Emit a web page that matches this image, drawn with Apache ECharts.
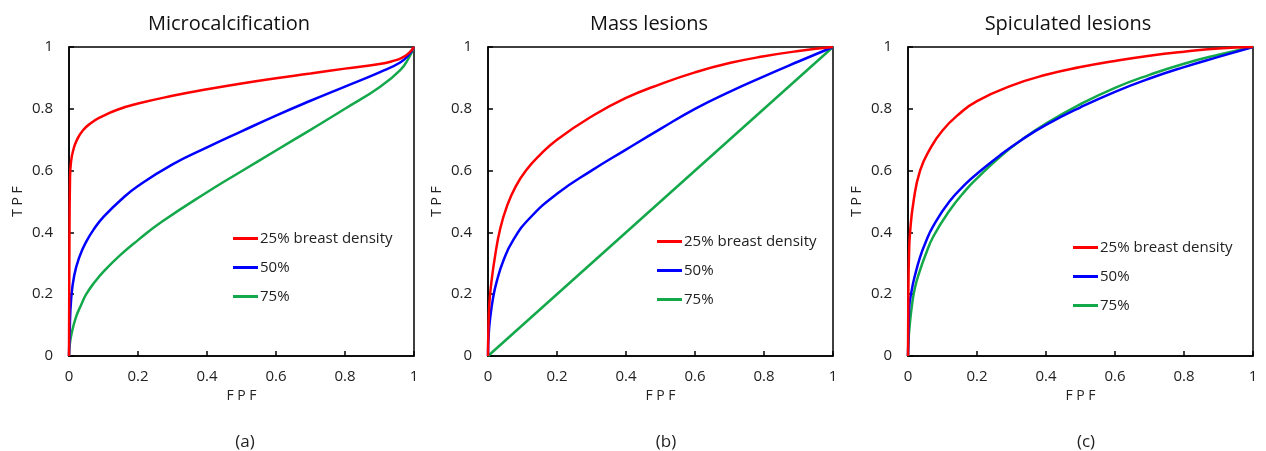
<!DOCTYPE html>
<html>
<head>
<meta charset="utf-8">
<script src="https://cdn.jsdelivr.net/npm/echarts@6/dist/echarts.min.js"></script>
<style>
html,body{margin:0;padding:0;background:#fff;}
#chart{width:1266px;height:451px;}
</style>
</head>
<body>
<div id="chart"></div>
<script>
// ---- data ----
const panelTitles = ['Microcalcification', 'Mass lesions', 'Spiculated lesions'];
const panelCaptions = ['(a)', '(b)', '(c)'];
const seriesNames = ['25% breast density', '50%', '75%'];
const tickLabels = ['0', '0.2', '0.4', '0.6', '0.8', '1'];
const xAxisTitle = 'F P F';
const yAxisTitle = 'T P F';

// (FPF, TPF) pairs
const micro25 = [[0,0],[0.001,0.3],[0.003,0.58],[0.006,0.63],[0.012,0.665],[0.022,0.697],[0.04,0.73],[0.065,0.755],[0.09,0.772],[0.14,0.797],[0.2,0.817],[0.3,0.842],[0.4,0.863],[0.5,0.882],[0.6,0.899],[0.7,0.914],[0.8,0.93],[0.9,0.945],[0.94,0.955],[0.965,0.965],[0.985,0.98],[1,1]];
const micro50 = [[0,0],[0.002,0.08],[0.006,0.18],[0.015,0.26],[0.03,0.32],[0.05,0.37],[0.075,0.415],[0.1,0.45],[0.15,0.505],[0.2,0.55],[0.3,0.62],[0.4,0.675],[0.5,0.727],[0.6,0.778],[0.7,0.826],[0.8,0.872],[0.9,0.918],[0.96,0.95],[0.985,0.975],[1,1]];
const micro75 = [[0,0],[0.002,0.035],[0.008,0.075],[0.02,0.125],[0.035,0.165],[0.05,0.2],[0.075,0.24],[0.1,0.273],[0.15,0.328],[0.2,0.375],[0.27,0.435],[0.4,0.53],[0.5,0.598],[0.6,0.665],[0.7,0.732],[0.8,0.8],[0.9,0.87],[0.96,0.925],[0.985,0.965],[1,1]];

const mass25 = [[0,0],[0.001,0.08],[0.004,0.17],[0.01,0.24],[0.02,0.32],[0.035,0.41],[0.055,0.485],[0.08,0.548],[0.11,0.6],[0.15,0.65],[0.2,0.7],[0.3,0.775],[0.4,0.835],[0.5,0.88],[0.6,0.918],[0.7,0.948],[0.8,0.97],[0.9,0.987],[1,1]];
const mass50 = [[0,0],[0.002,0.07],[0.006,0.12],[0.015,0.19],[0.025,0.24],[0.045,0.31],[0.073,0.375],[0.12,0.445],[0.2,0.525],[0.3,0.6],[0.4,0.668],[0.5,0.735],[0.6,0.8],[0.7,0.855],[0.8,0.905],[0.9,0.953],[1,1]];
const mass75 = [[0,0],[1,1]];

const spic25 = [[0,0],[0.001,0.2],[0.003,0.33],[0.006,0.4],[0.016,0.5],[0.035,0.6],[0.064,0.67],[0.1,0.73],[0.15,0.785],[0.2,0.825],[0.3,0.875],[0.4,0.91],[0.5,0.935],[0.6,0.955],[0.7,0.972],[0.8,0.985],[0.9,0.995],[1,1]];
const spic50 = [[0,0],[0.001,0.05],[0.003,0.15],[0.011,0.214],[0.02,0.26],[0.035,0.32],[0.05,0.365],[0.073,0.42],[0.12,0.5],[0.17,0.56],[0.2,0.59],[0.267,0.65],[0.33,0.7],[0.4,0.748],[0.5,0.805],[0.6,0.855],[0.7,0.898],[0.8,0.935],[0.9,0.968],[1,1]];
const spic75 = [[0,0],[0.002,0.06],[0.005,0.1],[0.011,0.16],[0.02,0.22],[0.035,0.278],[0.05,0.325],[0.073,0.386],[0.12,0.47],[0.17,0.54],[0.2,0.575],[0.267,0.645],[0.33,0.7],[0.4,0.752],[0.5,0.815],[0.6,0.868],[0.7,0.91],[0.8,0.946],[0.9,0.975],[1,1]];

const panelData = [[micro25, micro50, micro75], [mass25, mass50, mass75], [spic25, spic50, spic75]];
const colors = ['#ff0000', '#0000ff', '#13a84a'];

// ---- layout ----
const gridLefts = [69, 488, 908];
const gridTop = 47, gridW = 345, gridH = 309;
const titleCenters = [224, 644, 1063];
const captionCenters = [240, 661, 1081];
const legendPos = [[233, 231], [657, 234], [1073, 240]];
const font = '"Open Sans", "Noto Sans", sans-serif';

const grids = [], xAxes = [], yAxes = [], series = [], titles = [], legends = [];
for (let p = 0; p < 3; p++) {
  grids.push({left: gridLefts[p], top: gridTop, width: gridW, height: gridH, show: true, borderColor: '#000', borderWidth: 1.5, containLabel: false});
  const common = {
    min: 0, max: 1, interval: 0.2, gridIndex: p,
    splitLine: {show: false},
    axisLine: {show: true, lineStyle: {color: '#000', width: 1.5}},
    axisTick: {show: true, inside: true, length: 5, lineStyle: {color: '#000', width: 1.5}},
    nameTextStyle: {fontFamily: font, fontSize: 14, color: '#222'}
  };
  xAxes.push(Object.assign({}, common, {
    type: 'value', name: xAxisTitle, nameLocation: 'middle', nameGap: 32,
    axisLabel: {margin: 13, fontFamily: font, fontSize: 15, color: '#222', formatter: (v, i) => tickLabels[i]}
  }));
  yAxes.push(Object.assign({}, common, {
    type: 'value', name: yAxisTitle, nameLocation: 'middle', nameGap: 44, nameRotate: 90,
    axisLabel: {margin: 16, fontFamily: font, fontSize: 15, color: '#222', formatter: (v, i) => tickLabels[i]}
  }));
  for (let s = 0; s < 3; s++) {
    series.push({
      type: 'line', name: seriesNames[s], xAxisIndex: p, yAxisIndex: p,
      data: panelData[p][s], smooth: 0.5, showSymbol: false, symbol: 'none',
      lineStyle: {color: colors[s], width: 2.5}, itemStyle: {color: colors[s]},
      z: 3 - s, animation: false
    });
  }
  titles.push({text: panelTitles[p], left: titleCenters[p], top: 9, textAlign: 'center',
    textStyle: {fontFamily: font, fontSize: 20, fontWeight: 'normal', color: '#111'}});
  titles.push({text: panelCaptions[p], left: captionCenters[p], top: 429, textAlign: 'center',
    textStyle: {fontFamily: font, fontSize: 17, fontWeight: 'normal', color: '#222'}});
  legends.push({
    data: seriesNames, left: legendPos[p][0], top: legendPos[p][1], orient: 'vertical', padding: 0,
    itemWidth: 25, itemHeight: 3, itemGap: 14, icon: 'rect', selectedMode: false,
    textStyle: {fontFamily: font, fontSize: 15, color: '#222', padding: [0, 0, 0, -3]}
  });
}

const chart = echarts.init(document.getElementById('chart'));
chart.setOption({
  animation: false,
  backgroundColor: '#fff',
  title: titles,
  legend: legends,
  grid: grids,
  xAxis: xAxes,
  yAxis: yAxes,
  series: series
});
</script>
</body>
</html>
